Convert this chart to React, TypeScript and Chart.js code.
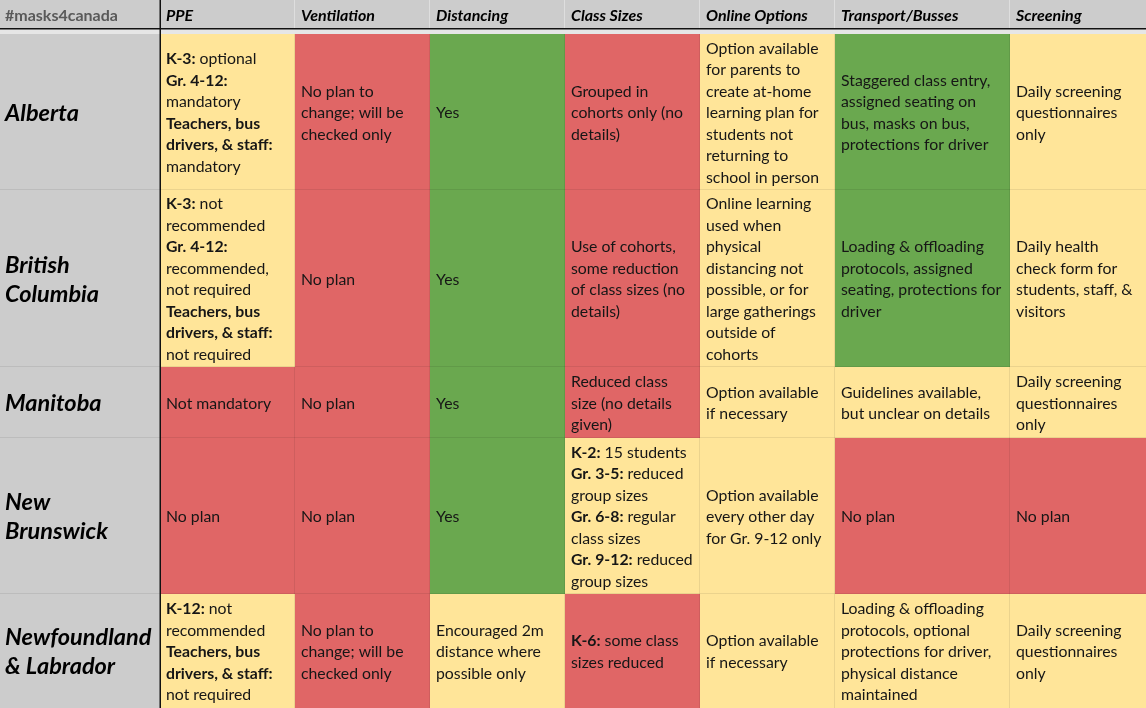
import { useEffect, useRef } from 'react';
import { Chart, registerables } from 'chart.js';

Chart.register(...registerables);

// ---------- content ----------
const CORNER_LABEL = '#masks4canada';
const COLUMNS = ['PPE', 'Ventilation', 'Distancing', 'Class Sizes', 'Online Options', 'Transport/Busses', 'Screening'];
const PROVINCES = [['Alberta'], ['British', 'Columbia'], ['Manitoba'], ['New', 'Brunswick'], ['Newfoundland', '& Labrador']];

// g = plan in place, y = partial / conditional, r = lacking
const statusAlberta = ['y', 'r', 'g', 'r', 'y', 'g', 'y'];
const statusBC = ['y', 'r', 'g', 'r', 'y', 'g', 'y'];
const statusManitoba = ['r', 'r', 'g', 'r', 'y', 'y', 'y'];
const statusNewBrunswick = ['r', 'r', 'g', 'y', 'y', 'r', 'r'];
const statusNewfoundland = ['y', 'r', 'y', 'r', 'y', 'y', 'y'];
const STATUS = [statusAlberta, statusBC, statusManitoba, statusNewBrunswick, statusNewfoundland];

const textAlberta = [
  ['**K-3:** optional', '**Gr. 4-12:**', 'mandatory', '**Teachers, bus**', '**drivers, & staff:**', 'mandatory'],
  ['No plan to', 'change; will be', 'checked only'],
  ['Yes'],
  ['Grouped in', 'cohorts only (no', 'details)'],
  ['Option available', 'for parents to', 'create at-home', 'learning plan for', 'students not', 'returning to', 'school in person'],
  ['Staggered class entry,', 'assigned seating on', 'bus, masks on bus,', 'protections for driver'],
  ['Daily screening', 'questionnaires', 'only'],
];
const textBC = [
  ['**K-3:** not', 'recommended', '**Gr. 4-12:**', 'recommended,', 'not required', '**Teachers, bus**', '**drivers, & staff:**', 'not required'],
  ['No plan'],
  ['Yes'],
  ['Use of cohorts,', 'some reduction', 'of class sizes (no', 'details)'],
  ['Online learning', 'used when', 'physical', 'distancing not', 'possible, or for', 'large gatherings', 'outside of', 'cohorts'],
  ['Loading & offloading', 'protocols, assigned', 'seating, protections for', 'driver'],
  ['Daily health', 'check form for', 'students, staff, &', 'visitors'],
];
const textManitoba = [
  ['Not mandatory'],
  ['No plan'],
  ['Yes'],
  ['Reduced class', 'size (no details', 'given)'],
  ['Option available', 'if necessary'],
  ['Guidelines available,', 'but unclear on details'],
  ['Daily screening', 'questionnaires', 'only'],
];
const textNewBrunswick = [
  ['No plan'],
  ['No plan'],
  ['Yes'],
  ['**K-2:** 15 students', '**Gr. 3-5:** reduced', 'group sizes', '**Gr. 6-8:** regular', 'class sizes', '**Gr. 9-12:** reduced', 'group sizes'],
  ['Option available', 'every other day', 'for Gr. 9-12 only'],
  ['No plan'],
  ['No plan'],
];
const textNewfoundland = [
  ['**K-12:** not', 'recommended', '**Teachers, bus**', '**drivers, & staff:**', 'not required'],
  ['No plan to', 'change; will be', 'checked only'],
  ['Encouraged 2m', 'distance where', 'possible only'],
  ['**K-6:** some class', 'sizes reduced'],
  ['Option available', 'if necessary'],
  ['Loading & offloading', 'protocols, optional', 'protections for driver,', 'physical distance', 'maintained'],
  ['Daily screening', 'questionnaires', 'only'],
];
const TEXTS = [textAlberta, textBC, textManitoba, textNewBrunswick, textNewfoundland];

// ---------- layout & style ----------
const W = 1146;
const H = 708;
const COL_WIDTHS = [160, 135, 135, 135, 135, 135, 175, 136];
const HEADER_H = 28;
const BAND_H = 6;
const ROW_HEIGHTS = [156, 177, 71, 156, 114];
const LINE_H = 21.5;
const LABEL_LINE_H = 29;
const PAD_X = 5;
const STATUS_COLORS: Record<string, string> = { g: '#6aa84f', y: '#ffe599', r: '#e06666' };
const GRAY = '#cccccc';
const FONT = 'Lato';
const BODY_SIZE = 15.8;
const HEADER_SIZE = 16;
const LABEL_SIZE = 23.5;

const colEdges: number[] = [0];
COL_WIDTHS.forEach((w) => colEdges.push(colEdges[colEdges.length - 1] + w));
const rowEdges: number[] = [HEADER_H + BAND_H];
ROW_HEIGHTS.forEach((h) => rowEdges.push(rowEdges[rowEdges.length - 1] + h));
const colCenter = (j: number) => (colEdges[j] + colEdges[j + 1]) / 2;

function parseRich(line: string) {
  const parts = line.split('**');
  return parts.map((t, i) => ({ t, b: i % 2 === 1 })).filter((p) => p.t.length > 0);
}

const tablePlugin = {
  id: 'tableText',
  afterDatasetsDraw(chart: any) {
    const { ctx, scales } = chart;
    const xs = scales.x;
    const ys = scales.y;
    const px = (v: number) => xs.getPixelForValue(v);
    const py = (v: number) => ys.getPixelForValue(v);
    ctx.save();

    // band under header
    ctx.fillStyle = '#e6e6e6';
    ctx.fillRect(0, py(HEADER_H), W, py(rowEdges[0]) - py(HEADER_H));

    // grid lines
    ctx.lineWidth = 1;
    ctx.strokeStyle = 'rgba(255,255,255,0.35)';
    for (let j = 2; j < colEdges.length - 1; j++) {
      ctx.beginPath();
      ctx.moveTo(px(colEdges[j]) - 0.5, py(0));
      ctx.lineTo(px(colEdges[j]) - 0.5, py(HEADER_H));
      ctx.stroke();
    }
    ctx.strokeStyle = 'rgba(0,0,0,0.08)';
    for (let j = 2; j < colEdges.length - 1; j++) {
      ctx.beginPath();
      ctx.moveTo(px(colEdges[j]) - 0.5, py(rowEdges[0]));
      ctx.lineTo(px(colEdges[j]) - 0.5, py(H));
      ctx.stroke();
    }
    for (let i = 1; i < rowEdges.length - 1; i++) {
      ctx.beginPath();
      ctx.moveTo(0, py(rowEdges[i]) - 0.5);
      ctx.lineTo(W, py(rowEdges[i]) - 0.5);
      ctx.stroke();
    }

    // dark rules
    ctx.fillStyle = '#111';
    ctx.fillRect(0, py(HEADER_H), W, 1.5);
    ctx.fillRect(px(colEdges[1]) - 0.5, 0, 1.5, H);

    ctx.textBaseline = 'middle';
    ctx.textAlign = 'left';

    // header
    const hy = py(HEADER_H / 2) + 1.5;
    ctx.font = `700 ${HEADER_SIZE}px ${FONT}`;
    ctx.fillStyle = '#595959';
    ctx.fillText(CORNER_LABEL, px(colEdges[0]) + PAD_X, hy);
    ctx.font = `italic 700 ${HEADER_SIZE}px ${FONT}`;
    ctx.fillStyle = '#000';
    COLUMNS.forEach((c, j) => ctx.fillText(c, px(colEdges[j + 1]) + PAD_X + 1, hy));

    // rows
    PROVINCES.forEach((lines, i) => {
      const cy = (py(rowEdges[i]) + py(rowEdges[i + 1])) / 2;
      ctx.font = `italic 700 ${LABEL_SIZE}px ${FONT}`;
      ctx.fillStyle = '#000';
      lines.forEach((l, k) => {
        ctx.fillText(l, px(colEdges[0]) + PAD_X, cy + (k - (lines.length - 1) / 2) * LABEL_LINE_H + 1);
      });
      TEXTS[i].forEach((cell, j) => {
        const x0 = px(colEdges[j + 1]) + PAD_X + 1;
        cell.forEach((line, k) => {
          const ly = cy + (k - (cell.length - 1) / 2) * LINE_H + 1;
          let x = x0;
          parseRich(line).forEach((seg) => {
            ctx.font = `${seg.b ? '700 ' : ''}${BODY_SIZE}px ${FONT}`;
            ctx.fillStyle = '#161616';
            ctx.fillText(seg.t, x, ly);
            x += ctx.measureText(seg.t).width;
          });
        });
      });
    });
    ctx.restore();
  },
};

export default function App() {
  const ref = useRef<HTMLCanvasElement | null>(null);
  useEffect(() => {
    document.body.style.margin = '0';
    const canvas = ref.current;
    if (!canvas) return;

    const labelDataset = {
      label: 'Province',
      data: [{ x: colCenter(0), y: [0, HEADER_H] }, ...PROVINCES.map((_, i) => ({ x: colCenter(0), y: [rowEdges[i], rowEdges[i + 1]] }))],
      backgroundColor: [GRAY, ...PROVINCES.map(() => GRAY)],
      barThickness: COL_WIDTHS[0],
    };
    const columnDatasets = COLUMNS.map((c, j) => ({
      label: c,
      data: [
        { x: colCenter(j + 1), y: [0, HEADER_H] },
        ...STATUS.map((_, i) => ({ x: colCenter(j + 1), y: [rowEdges[i], rowEdges[i + 1]] })),
      ],
      backgroundColor: [GRAY, ...STATUS.map((s) => STATUS_COLORS[s[j]])],
      barThickness: COL_WIDTHS[j + 1],
    }));

    const chart = new Chart(canvas, {
      type: 'bar',
      data: { datasets: [labelDataset, ...columnDatasets] as any },
      options: {
        animation: false,
        responsive: false,
        maintainAspectRatio: false,
        layout: { padding: 0 },
        datasets: { bar: { borderWidth: 0, inflateAmount: 0, borderSkipped: false } } as any,
        plugins: { legend: { display: false }, tooltip: { enabled: false } },
        scales: {
          x: { type: 'linear', display: false, min: 0, max: W, offset: false, stacked: true },
          y: { type: 'linear', display: false, min: 0, max: H, reverse: true, stacked: false },
        },
      },
      plugins: [tablePlugin],
    });
    return () => chart.destroy();
  }, []);
  return (
    <div style={{ width: W, height: H, background: '#fff' }}>
      <canvas ref={ref} width={W} height={H} style={{ display: 'block' }} />
    </div>
  );
}
